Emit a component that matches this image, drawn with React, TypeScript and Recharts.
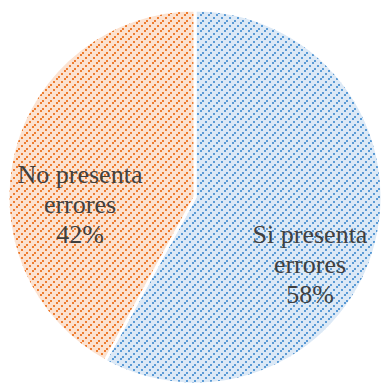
import { PieChart, Pie, Cell } from 'recharts'

const categories = ['Si presenta errores', 'No presenta errores']
const labelLines = [['Si presenta', 'errores'], ['No presenta', 'errores']]
const values = [58, 42]
const patterns = ['pBlue', 'pOrange']

const data = categories.map((name, i) => ({ name, value: values[i] }))

const RAD = Math.PI / 180

function renderLabel(props: any) {
  const { cx, cy, midAngle, outerRadius, index, value } = props
  const r = outerRadius * 0.635
  const x = cx + r * Math.cos(-midAngle * RAD)
  const y = cy + r * Math.sin(-midAngle * RAD) + 46
  const lines = [...labelLines[index], `${value}%`]
  return (
    <text
      x={x}
      y={y}
      textAnchor="middle"
      fill="#404040"
      fontFamily="'Liberation Serif', 'Times New Roman', serif"
      fontSize={26}
    >
      {lines.map((l, k) => (
        <tspan key={k} x={x} y={y + (k - 1) * 30}>
          {l}
        </tspan>
      ))}
    </text>
  )
}

export default function App() {
  return (
    <div style={{ position: 'absolute', left: 0, top: 0, width: 382, height: 387, background: '#fff' }}>
      <PieChart width={382} height={387} margin={{ top: 0, right: 0, bottom: 0, left: 0 }}>
        <defs>
          <pattern id="pBlue" width="8" height="8" patternUnits="userSpaceOnUse">
            <rect width="8" height="8" fill="#dce9f6" />
            <rect x="0" y="6" width="2" height="2" fill="#5b9bd5" />
            <rect x="2" y="4" width="2" height="2" fill="#5b9bd5" />
            <rect x="5" y="1" width="2" height="2" fill="#5b9bd5" />
          </pattern>
          <pattern id="pOrange" width="8" height="8" patternUnits="userSpaceOnUse">
            <rect width="8" height="8" fill="#fce2d0" />
            <rect x="0" y="6" width="2" height="2" fill="#ed7d31" />
            <rect x="2" y="4" width="2" height="2" fill="#ed7d31" />
            <rect x="5" y="1" width="2" height="2" fill="#ed7d31" />
          </pattern>
        </defs>
        <Pie
          data={data}
          dataKey="value"
          nameKey="name"
          cx={195}
          cy={197}
          outerRadius={187}
          startAngle={90}
          endAngle={-270}
          stroke="#ffffff"
          strokeWidth={3}
          label={renderLabel}
          labelLine={false}
          isAnimationActive={false}
        >
          {data.map((d, i) => (
            <Cell key={d.name} fill={`url(#${patterns[i]})`} />
          ))}
        </Pie>
      </PieChart>
    </div>
  )
}
